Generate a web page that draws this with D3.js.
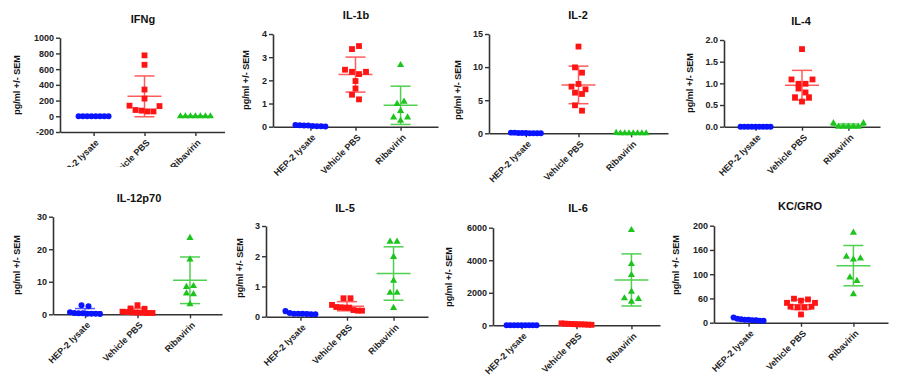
<!DOCTYPE html>
<html>
<head>
<meta charset="utf-8">
<script src="https://cdn.jsdelivr.net/npm/d3@7"></script>
<style>
body { margin:0; background:#fff; }
text { font-family:"Liberation Sans", Arial, sans-serif; font-weight:bold; }
</style>
</head>
<body>
<svg id="chart"></svg>
<script>
// groups and cytokines
var groups = ["HEP-2 lysate","Vehicle PBS","Ribavirin"];
var cytokines = ["IFNg","IL-1b","IL-2","IL-4","IL-12p70","IL-5","IL-6","KC/GRO"];

// values: [HEP-2 lysate, Vehicle PBS, Ribavirin]
var ifng = [[0,0,0,0,0,0,0,0],
            [775,655,340,225,135,80,72,62,62,130],
            [0,0,0,0,0,0,0]];
var il1b = [[0.07,0.06,0.05,0.05,0.03,0.02,0.02,0.01],
            [3.35,3.48,2.46,2.37,2.27,2.37,1.97,1.65,1.38,1.18],
            [2.66,0.98,1.08,0.68,0.40,0.26,0.40]];
var il2 = [[0.1,0.1,0.05,0.05,0.05,0,0,0,0],
           [13.1,9.96,9.16,7.05,7.45,6.64,6.14,5.94,4.23,3.42],
           [0.05,0,0,0,0,0,0,0]];
var il4 = [[0,0,0,0,0,0,0,0,0],
           [1.79,1.09,0.99,0.88,0.79,0.68,0.58,0.68,0.99,1.09],
           [0.08,0,0,0,0,0,0.08]];
var il12p70 = [[2.8,2.5,0.6,0.4,0.3,0.3,0.2,0.2,0.2,0.1],
               [1.8,0.8,0.7,0.6,2.8,0.5,0.5,0.4,0.4,1.7],
               [23.5,16.9,8.4,6.4,3.1,8.7,6.2]];
var il5 = [[0.19,0.12,0.1,0.1,0.1,0.09,0.08,0.08],
           [0.61,0.61,0.39,0.32,0.31,0.30,0.30,0.22,0.20,0.20],
           [2.48,2.48,1.98,1.19,0.79,0.79,0.29]];
var il6 = [[0,0,0,0,0,0,0,0,0],
           [120,100,90,80,70,60,60,50,40,30],
           [5857,3768,3092,2068,1659,1454,1618]];
var kcgro = [[11,8,7,6,6,5,5,4,4],
             [41,49.5,45.4,48,41,33,31.6,17,31.6,33],
             [185.6,136,130.6,132.6,93.5,86,59]];
var allData = [ifng, il1b, il2, il4, il12p70, il5, il6, kcgro];

// y axis domains and ticks
var yDomains = [[-200,1000],[0,4],[0,15],[0,2],[0,30],[0,3],[0,6000],[0,200]];
var yTicks = [[-200,0,200,400,600,800,1000],[0,1,2,3,4],[0,5,10,15],[0,0.5,1,1.5,2],
              [0,10,20,30],[0,1,2,3],[0,2000,4000,6000],[0,50,100,150,200]];
var kcTickLabels = ["0","60","100","160","200"];

// where each small plot sits on the page
var layout = [
    {x0:60,  x1:229, top:37.7,  bottom:132,   pad:0.66, title:[143,23],  ylab:[17,85],  clip:167},
    {x0:273, x1:438, top:34,    bottom:126.7, pad:0.83, title:[356,19],  ylab:[246,80]},
    {x0:489, x1:668, top:34,    bottom:133.3, pad:0.70, title:[578,19],  ylab:[458,90]},
    {x0:724, x1:880, top:40,    bottom:126.7, pad:0.68, title:[801,25],  ylab:[690,83]},
    {x0:53,  x1:222, top:216.7, bottom:314.3, pad:0.61, title:[139,202], ylab:[17,265]},
    {x0:266, x1:428, top:226,   bottom:316.7, pad:0.74, title:[345,212], ylab:[240,268]},
    {x0:493, x1:660, top:227.7, bottom:325.3, pad:0.52, title:[578,212], ylab:[449,277]},
    {x0:714, x1:888, top:225.7, bottom:322.7, pad:0.66, title:[800,210], ylab:[676,265]}
];

var pointColors = ["#0a14ff","#ff1414","#1ec41e"];
var barColors = ["#5a5aff","#ff5c5c","#50d050"];
var symbols = [d3.symbolCircle, d3.symbolSquare, d3.symbolTriangle];
var symbolSizes = [28, 34, 22];

// spread points that share a height sideways, like a dot plot
var swarm = function(values, y, cx) {
    var pts = values.map(function(v,i) { return {v:v, i:i, py:y(v)}; });
    var sorted = pts.slice().sort(function(a,b) { return a.py - b.py; });
    var rows = [], row = null;
    sorted.forEach(function(p) {
        if (row && p.py - row[0].py < 6) row.push(p);
        else { row = [p]; rows.push(row); }
    });
    rows.forEach(function(r) {
        r.sort(function(a,b) { return a.i - b.i; });
        var step = r.length > 1 ? Math.min(7, 30/(r.length-1)) : 0;
        r.forEach(function(p,k) { p.px = cx + (k - (r.length-1)/2) * step; });
    });
    return pts;
}

var svg = d3.select("#chart").attr("width",900).attr("height",380);

svg.append("clipPath").attr("id","clip0")
    .append("rect").attr("x",0).attr("y",0).attr("width",225).attr("height",167);

// draws one small plot
var drawPanel = function(k) {
    var L = layout[k];
    var g = svg.append("g");
    if (L.clip) g.attr("clip-path","url(#clip0)");

    var x = d3.scalePoint().domain(groups).range([L.x0, L.x1]).padding(L.pad);
    var y = d3.scaleLinear().domain(yDomains[k]).range([L.bottom, L.top]);

    var fmt = function(d) { return k == 3 ? d3.format(".1f")(d) : String(d); };
    if (k == 7) fmt = function(d,i) { return kcTickLabels[i]; };

    var yAxis = g.append("g")
        .attr("transform","translate("+L.x0+",0)")
        .call(d3.axisLeft(y).tickValues(yTicks[k]).tickSize(4).tickSizeOuter(0).tickFormat(fmt));
    var xAxis = g.append("g")
        .attr("transform","translate(0,"+L.bottom+")")
        .call(d3.axisBottom(x).tickSize(4).tickSizeOuter(0));

    [yAxis, xAxis].forEach(function(a) {
        a.select(".domain").attr("stroke","#333").attr("stroke-width",1.6);
        a.selectAll(".tick line").attr("stroke","#333").attr("stroke-width",1.4);
        a.selectAll("text").attr("fill","#222").style("font-size","9px");
    });
    yAxis.selectAll("text").attr("x",-6);
    xAxis.selectAll("text")
        .attr("text-anchor","end")
        .attr("x",0).attr("y",0).attr("dy","0.35em")
        .attr("transform","translate(3,9) rotate(-45)");

    // title and y label
    g.append("text")
        .attr("x",L.title[0]).attr("y",L.title[1])
        .attr("text-anchor","middle")
        .style("font-size","11px").attr("fill","#111")
        .text(cytokines[k]);
    g.append("text")
        .attr("transform","translate("+L.ylab[0]+","+L.ylab[1]+") rotate(-90)")
        .attr("text-anchor","middle").attr("dy","0.35em")
        .style("font-size","9px").attr("fill","#111")
        .text("pg/ml +/- SEM");

    allData[k].forEach(function(values, gi) {
        var cx = x(groups[gi]);
        var mean = d3.mean(values);
        var sd = d3.deviation(values) || 0;

        // mean and error bar
        var bar = g.append("g").attr("stroke",barColors[gi]).attr("stroke-width",1.5);
        bar.append("line").attr("x1",cx).attr("x2",cx)
            .attr("y1",y(mean+sd)).attr("y2",y(mean-sd));
        bar.append("line").attr("x1",cx-17).attr("x2",cx+17)
            .attr("y1",y(mean)).attr("y2",y(mean));
        [mean+sd, mean-sd].forEach(function(v) {
            bar.append("line").attr("x1",cx-10).attr("x2",cx+10)
                .attr("y1",y(v)).attr("y2",y(v));
        });

        // points
        g.append("g").selectAll("path")
            .data(swarm(values, y, cx))
            .enter()
            .append("path")
            .attr("d", d3.symbol().type(symbols[gi]).size(symbolSizes[gi]))
            .attr("transform",function(p) { return "translate("+p.px+","+p.py+")"; })
            .attr("fill",pointColors[gi]);
    });
}

for (var k = 0; k < layout.length; k++) drawPanel(k);
</script>
</body>
</html>
